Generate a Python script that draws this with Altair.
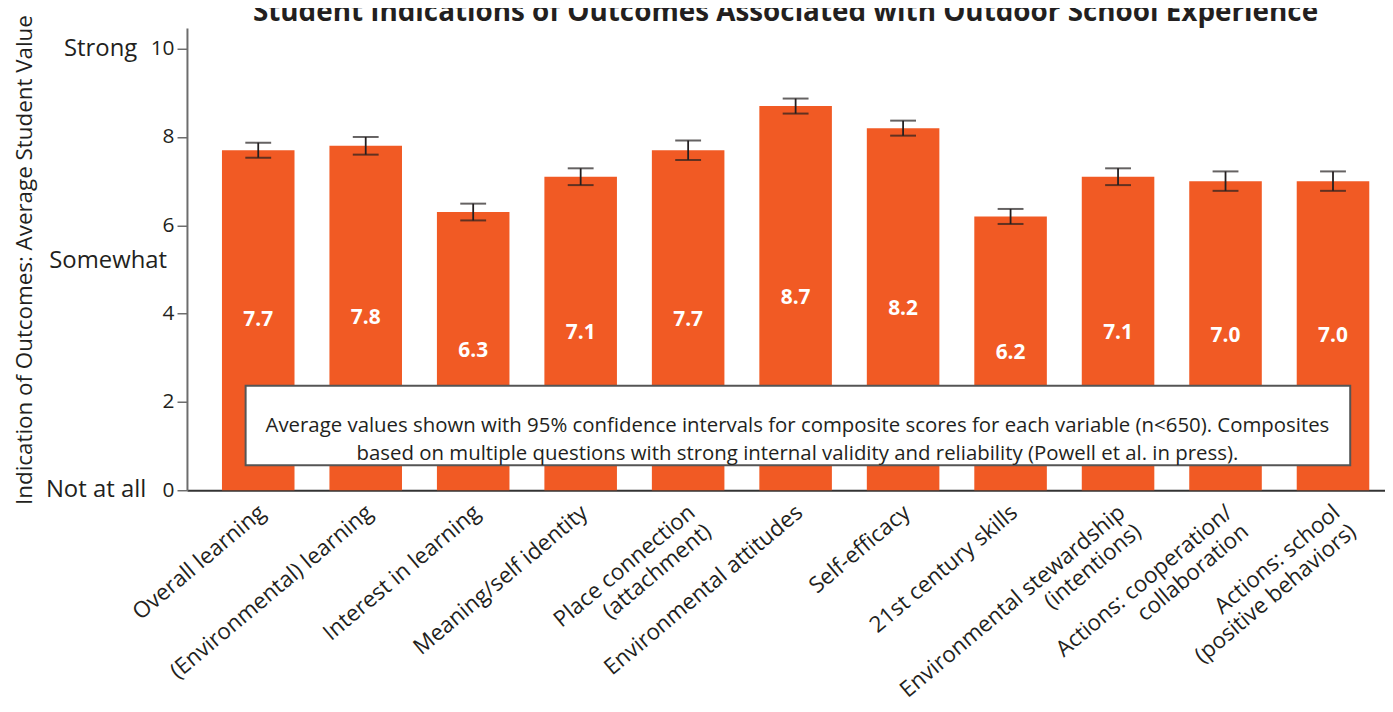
import altair as alt
import pandas as pd

categories = [
    "Overall learning",
    "(Environmental) learning",
    "Interest in learning",
    "Meaning/self identity",
    "Place connection|(attachment)",
    "Environmental attitudes",
    "Self-efficacy",
    "21st century skills",
    "Environmental stewardship|(intentions)",
    "Actions: cooperation/|collaboration",
    "Actions: school|(positive behaviors)",
]
values = [7.7, 7.8, 6.3, 7.1, 7.7, 8.7, 8.2, 6.2, 7.1, 7.0, 7.0]
ci_half = [0.17, 0.20, 0.19, 0.19, 0.22, 0.17, 0.17, 0.17, 0.19, 0.22, 0.22]

side_labels = ["Strong", "Somewhat", "Not at all"]
side_values = [10, 5.2, 0]

title_text = "Student Indications of Outcomes Associated with Outdoor School Experience"
note_lines = [
    "Average values shown with 95% confidence intervals for composite scores for each variable (n<650). Composites",
    "based on multiple questions with strong internal validity and reliability (Powell et al. in press).",
]

FONT = "Open Sans"
ORANGE = "#F15A24"
DARK = "#231F20"

df = pd.DataFrame({
    "cat": categories,
    "value": values,
    "lo": [v - h for v, h in zip(values, ci_half)],
    "hi": [v + h for v, h in zip(values, ci_half)],
})
df["mid"] = df["value"] / 2

xscale = alt.Scale(domain=categories, paddingInner=0.325, paddingOuter=0.236, align=0.69)
yscale = alt.Scale(domain=[0, 10.47], nice=False, zero=True)

x_enc = alt.X(
    "cat:N", scale=xscale, sort=categories, title=None,
    axis=alt.Axis(
        labelAngle=-40, labelAlign="right", labelBaseline="middle",
        labelExpr="split(datum.label, '|')", labelFontSize=22.5, labelFont=FONT,
        labelColor=DARK, labelPadding=19, labelOffset=4, labelLineHeight=25,
        ticks=False, domainColor="#333333", domainWidth=2, labelLimit=400,
    ),
)

base = alt.Chart(df)

bars = base.mark_bar(color=ORANGE).encode(
    x=x_enc,
    y=alt.Y(
        "value:Q", scale=yscale,
        title="Indication of Outcomes: Average Student Value",
        axis=alt.Axis(
            values=[0, 2, 4, 6, 8, 10], grid=False, labelFontSize=21, labelFont=FONT,
            labelColor=DARK, tickSize=10, tickColor="#6d6d6d", tickWidth=1.5,
            domainColor="#6d6d6d", domainWidth=2, labelPadding=3,
            titleFont=FONT, titleFontSize=22.5, titleFontWeight="normal", titleColor=DARK,
            titleX=-163, titleY=233, titleAlign="center", titleBaseline="middle", titleAngle=-90,
        ),
    ),
)

err = base.mark_rule(color=DARK, strokeWidth=1.8).encode(
    x=alt.X("cat:N", scale=xscale, sort=categories),
    y=alt.Y("lo:Q", scale=yscale),
    y2="hi:Q",
)
cap_lo = base.mark_tick(color=DARK, size=26, thickness=2).encode(
    x=alt.X("cat:N", scale=xscale, sort=categories),
    y=alt.Y("lo:Q", scale=yscale),
)
cap_hi = base.mark_tick(color=DARK, size=26, thickness=2).encode(
    x=alt.X("cat:N", scale=xscale, sort=categories),
    y=alt.Y("hi:Q", scale=yscale),
)

vlabels = base.mark_text(color="white", font=FONT, fontSize=21, fontWeight="bold").encode(
    x=alt.X("cat:N", scale=xscale, sort=categories),
    y=alt.Y("mid:Q", scale=yscale),
    text=alt.Text("value:Q", format=".1f"),
)

side_x = [-50, -20, -41]
side_layers = []
for lab, val, xp in zip(side_labels, side_values, side_x):
    side_layers.append(
        alt.Chart(pd.DataFrame({"t": [lab], "y": [val]})).mark_text(
            align="right", baseline="middle", font=FONT, fontSize=24, color=DARK
        ).encode(x=alt.value(xp), y=alt.Y("y:Q", scale=yscale), text="t:N")
    )

box = alt.Chart(pd.DataFrame({"a": [0]})).mark_rect(
    fill="white", stroke="#555555", strokeWidth=2
).encode(x=alt.value(59), x2=alt.value(1170), y=alt.value(360), y2=alt.value(440))

note = alt.Chart(pd.DataFrame({"t": [note_lines]})).mark_text(
    align="center", baseline="middle", font=FONT, fontSize=20.5, color=DARK, lineHeight=29
).encode(x=alt.value(614), y=alt.value(400), text="t")

title = alt.Chart(pd.DataFrame({"t": [title_text]})).mark_text(
    align="center", baseline="alphabetic", font=FONT, fontSize=28, fontWeight="bold", color=DARK
).encode(x=alt.value(602), y=alt.value(-7), text="t:N")

chart = alt.layer(bars, err, cap_lo, cap_hi, vlabels, *side_layers, box, note, title).properties(
    width=1205, height=465,
    autosize=alt.AutoSizeParams(type="none"),
    padding={"left": 180, "top": 18, "right": 0, "bottom": 213},
).configure_view(stroke=None)

chart.save("out.html", embed_options={"renderer": "svg", "actions": False})
